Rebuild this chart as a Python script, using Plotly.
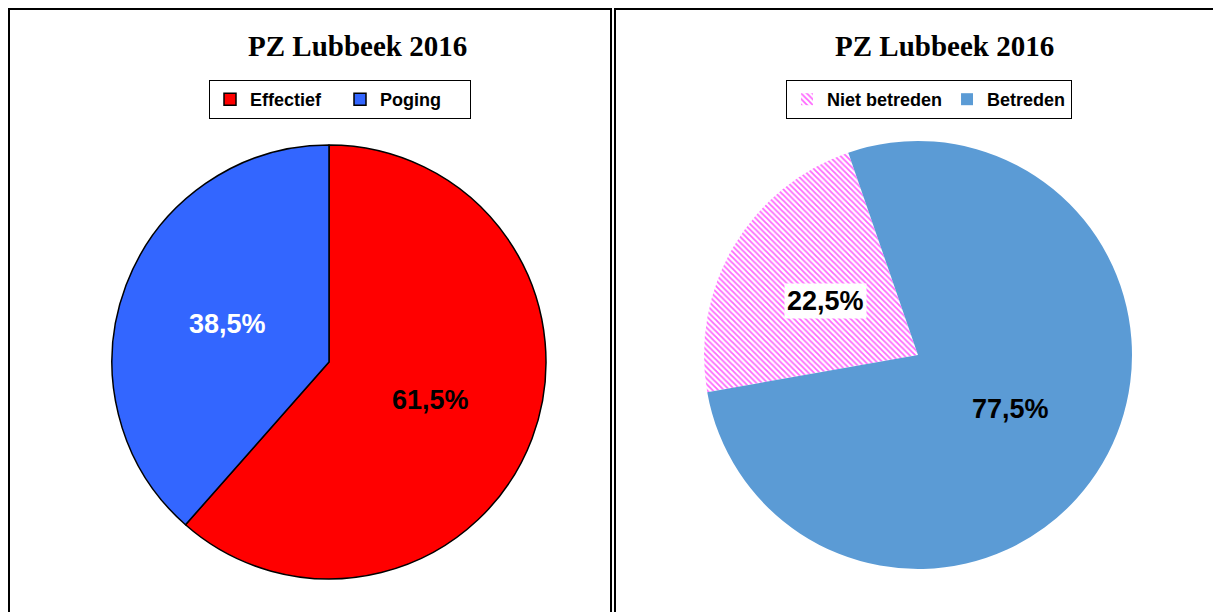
import math
import plotly.graph_objects as go

# the page body adds an 8px margin, so the figure is sized to fit the window
PAGE_W, PAGE_H = 1221, 612
OFF = 8
W, H = PAGE_W - OFF, PAGE_H - OFF

TITLE = "PZ Lubbeek 2016"

left_labels = ["Effectief", "Poging"]
left_values = [61.5, 38.5]
left_colors = ["#FF0000", "#3366FF"]
left_text_colors = ["black", "white"]

right_labels = ["Niet betreden", "Betreden"]
right_values = [22.5, 77.5]
right_colors = ["#FF66FF", "#5B9BD5"]
right_text_colors = ["black", "black"]
right_rotation = 260

# pie boxes in page pixels (left, top, right, bottom)
LEFT_BOX = (112, 145, 546, 579)
RIGHT_BOX = (704, 141, 1132, 569)

SERIF = "Times New Roman, Liberation Serif, serif"
SANS = "Arial, Liberation Sans, sans-serif"


def px(x):
    return (x - OFF) / W


def py(y):
    return 1 - (y - OFF) / H


def domain(box):
    x0, y0, x1, y1 = box
    return dict(x=[px(x0), px(x1)], y=[py(y1), py(y0)])


def fmt_pct(v):
    return f"{v:.1f}%".replace(".", ",")


def label_annotations(values, rotation, box, colors, frac=0.5, bg=None):
    x0, y0, x1, y1 = box
    cx, cy = (x0 + x1) / 2, (y0 + y1) / 2
    r = min(x1 - x0, y1 - y0) / 2
    total = sum(values)
    start = rotation
    out = []
    for i, v in enumerate(values):
        span = 360 * v / total
        mid = math.radians(start + span / 2)
        lx = cx + frac * r * math.sin(mid)
        ly = cy - frac * r * math.cos(mid)
        ann = dict(
            x=px(lx), y=py(ly), xref="paper", yref="paper",
            xanchor="center", yanchor="middle",
            text=f"<b>{fmt_pct(v)}</b>", showarrow=False,
            font=dict(family=SANS, size=27, color=colors[i]),
        )
        if bg and bg[i]:
            ann.update(bgcolor=bg[i], borderpad=2)
        out.append(ann)
        start += span
    return out


fig = go.Figure()

fig.add_trace(go.Pie(
    labels=left_labels, values=left_values, sort=False,
    direction="clockwise", rotation=0,
    marker=dict(colors=left_colors, line=dict(color="black", width=1.5)),
    textinfo="none", domain=domain(LEFT_BOX), legend="legend",
))

fig.add_trace(go.Pie(
    labels=right_labels, values=right_values, sort=False,
    direction="clockwise", rotation=right_rotation,
    marker=dict(
        colors=["white", right_colors[1]],
        line=dict(width=0),
        pattern=dict(shape=["\\", ""], fgcolor=right_colors[0],
                     bgcolor="white", size=4, solidity=0.45),
    ),
    textinfo="none", domain=domain(RIGHT_BOX), legend="legend2",
))

annotations = [
    dict(x=px(357), y=py(46), xref="paper", yref="paper",
         xanchor="center", yanchor="middle",
         text=f"<b>{TITLE}</b>", showarrow=False,
         font=dict(family=SERIF, size=29, color="black")),
    dict(x=px(944), y=py(46), xref="paper", yref="paper",
         xanchor="center", yanchor="middle",
         text=f"<b>{TITLE}</b>", showarrow=False,
         font=dict(family=SERIF, size=29, color="black")),
]
annotations += label_annotations(left_values, 0, LEFT_BOX, left_text_colors)
annotations += label_annotations(right_values, right_rotation, RIGHT_BOX,
                                 right_text_colors, bg=["white", None])

legend_style = dict(
    orientation="h", xref="paper", yref="paper", yanchor="top",
    xanchor="center", bgcolor="white", bordercolor="black", borderwidth=1,
    font=dict(family=SANS, size=18, color="black", weight="bold"),
    itemclick=False, itemdoubleclick=False,
)

fig.update_layout(
    width=W, height=H,
    margin=dict(l=0, r=0, t=0, b=0),
    paper_bgcolor="white", plot_bgcolor="white",
    showlegend=True,
    legend=dict(x=px(340), y=py(80), entrywidth=85, **legend_style),
    legend2=dict(x=px(929), y=py(80), **legend_style),
    annotations=annotations,
    shapes=[
        dict(type="rect", xref="paper", yref="paper",
             x0=px(9), x1=px(611), y0=-0.05, y1=py(9),
             line=dict(color="black", width=2)),
        dict(type="rect", xref="paper", yref="paper",
             x0=px(615), x1=1.05, y0=-0.05, y1=py(9),
             line=dict(color="black", width=2)),
    ],
)

fig.write_html("out.html")
